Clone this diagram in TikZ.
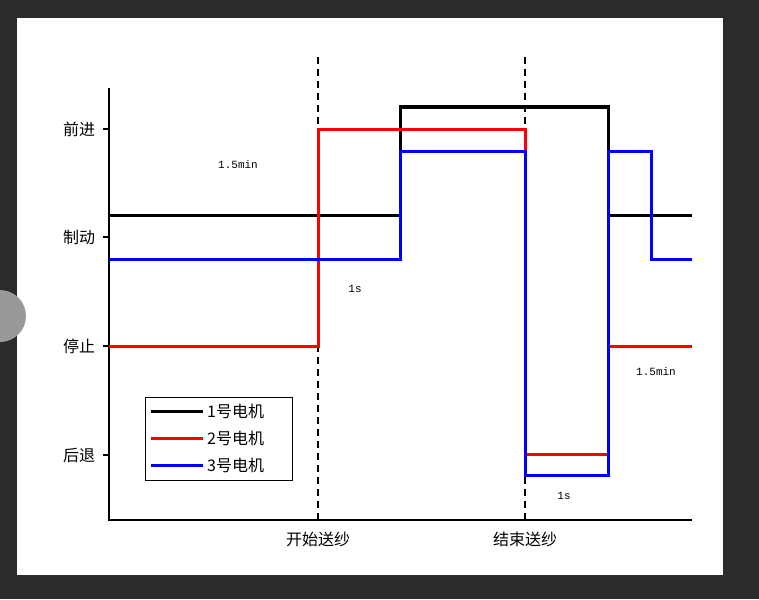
\documentclass[tikz,border=0pt]{standalone}
\usepackage{fontspec}
\newfontfamily\cjk{Noto Sans CJK SC}
\newfontfamily\mono{Liberation Mono}
\usetikzlibrary{positioning}

\tikzset{
  motor/.style={line width=3pt},
  guide/.style={line width=1.8pt,dash pattern=on 7pt off 5pt},
  lvl/.style={left=4pt,font=\cjk\fontsize{16}{16}\selectfont},
  cue/.style={font=\mono\fontsize{11}{11}\selectfont},
  tag/.style={below=9pt,font=\cjk\fontsize{16}{16}\selectfont}
}

\begin{document}
\begin{tikzpicture}[x=1pt,y=-1pt]
    \useasboundingbox (0,0) rectangle (759,599);
    \fill[black!83] (0,0) rectangle (759,599);
    \fill[white] (17,18) rectangle (723,575);
    \begin{scope}
      \clip (0,0) rectangle (759,599);
      \fill[black!40] (0,316) circle (26);
    \end{scope}
    % axes
    \coordinate (o) at (109,520);
    \draw[line width=1.3pt] (109,88) -- (o) -- (692,520);
    \foreach \y/\t [count=\i] in {129/前进,237/制动,346/停止,455/后退}
        {\draw[line width=1.3pt] (109,\y) -- (103,\y) node[lvl] (l\i) {\t};}
    \foreach \x/\t/\n in {318/开始送纱/s,525/结束送纱/e}
      {\draw[line width=1.3pt] (\x,520) -- (\x,514) coordinate (t\n);
       \node[tag] (x\n) at (\x,520) {\t};}
    \draw[line width=1.3pt] (109,520) -- (109,514);
    % timing marks
    \draw[guide] (318,57) -- (318,520);
    \draw[guide] (525,57) -- (525,520);
    % motors
    \draw[motor,black] (109,215) -- (400,215) -- (400,107) -- (608,107)
        -- (608,215) -- (692,215);
    \draw[motor,red] (109,346) -- (318,346) -- (318,129) -- (525,129)
        -- (525,454) -- (608,454) -- (608,346) -- (692,346);
    \draw[motor,blue] (109,259) -- (400,259) -- (400,151) -- (525,151)
        -- (525,475) -- (608,475) -- (608,151) -- (651,151) -- (651,259) -- (692,259);
    % durations
    \node[cue] (d1) at (238,165) {1.5min};
    \node[cue] (d2) at (355,289) {1s};
    \node[cue] (d3) at (656,372) {1.5min};
    \node[cue] (d4) at (564,496) {1s};
    % legend
    \draw[line width=1pt] (145,397) rectangle (292,480);
    \foreach \c/\t [count=\i] in {black/1,red/2,blue/3}
      {\draw[motor,\c] (151,384+27*\i) -- (203,384+27*\i);
       \node[anchor=west,inner sep=0pt,font=\cjk\fontsize{16}{16}\selectfont] (k\i) at (207,384+27*\i) {\t 号电机};}
\end{tikzpicture}
\end{document}
